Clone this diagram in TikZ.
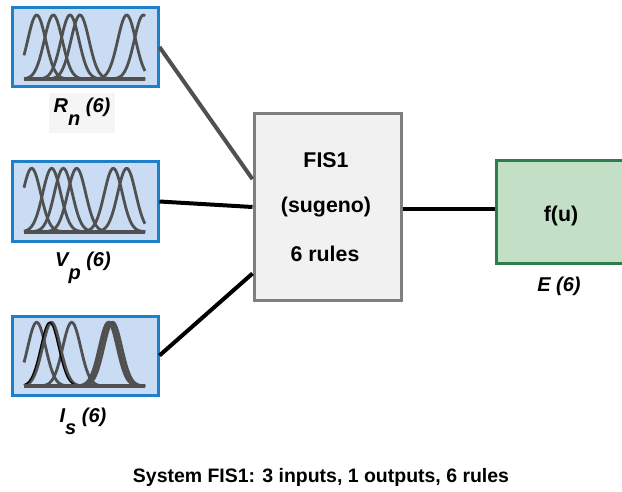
\documentclass[tikz,border=0pt]{standalone}
\usepackage{fontspec}
\setmainfont{Liberation Sans}
\definecolor{mfblue}{HTML}{C9DCF4}
\definecolor{mfedge}{HTML}{1F80CA}
\definecolor{fisgray}{HTML}{F1F1F1}
\definecolor{fisedge}{HTML}{7F7F7F}
\definecolor{outgreen}{HTML}{C3DFC6}
\definecolor{outedge}{HTML}{2E7D4F}
\definecolor{curvegray}{HTML}{505050}
\definecolor{labelbg}{HTML}{F5F5F5}

\tikzset{
  inputbox/.style={draw=mfedge, fill=mfblue, line width=2.25pt,
    minimum width=109.5pt, minimum height=59.25pt, inner sep=0pt},
  fisbox/.style={draw=fisedge, fill=fisgray, line width=2.25pt,
    minimum width=110.25pt, minimum height=139.5pt, inner sep=0pt},
  outbox/.style={draw=outedge, fill=outgreen, line width=2.25pt,
    minimum width=97.5pt, minimum height=76.5pt, inner sep=0pt},
  mfcurve/.style={draw=curvegray, line width=2.1pt},
  mfbase/.style={draw=curvegray, line width=2.7pt},
  wire/.style={line width=3pt, draw=black},
  boxtext/.style={font=\fontsize{16}{19}\selectfont\bfseries, anchor=base},
  varlabel/.style={font=\fontsize{15}{18}\selectfont\bfseries\itshape, anchor=base},
}
\newcommand{\lowsub}[1]{\raisebox{-0.62em}{#1}}

\begin{document}
\begin{tikzpicture}[x=0.75pt, y=-0.75pt]
  \useasboundingbox (0,0) rectangle (622,492);
  \clip (0,0) rectangle (622,492);
  \fill[white] (0,0) rectangle (622,492);

  % input variable blocks
  \node[inputbox] (in1) at (85,47) {};
  \node[inputbox] (in2) at (85,201.5) {};
  \node[inputbox] (in3) at (85,355.5) {};

  % membership functions of R_n
  \foreach \c in {36.7,53.3,70,80,126.7,143.3}
    \draw[mfcurve] plot[domain=24:145, samples=90, smooth]
      (\x, {79 - 64*exp(-((\x-\c)^2)/(2*9*9))});
  \draw[mfbase] (24,79) -- (145,79);

  % membership functions of V_p
  \foreach \c in {31.7,51.7,63.3,76.7,113.3,126.7}
    \draw[mfcurve] plot[domain=24:145, samples=90, smooth]
      (\x, {231.7 - 63.4*exp(-((\x-\c)^2)/(2*9*9))});
  \draw[mfbase] (24,231.7) -- (145,231.7);

  % membership functions of I_s (the selected one drawn thin and black)
  \foreach \c in {36.7,51.5,71.7,108.3,110,112.7}
    \draw[mfcurve] plot[domain=24:145, samples=90, smooth]
      (\x, {386 - 63.7*exp(-((\x-\c)^2)/(2*9*9))});
  \draw[black, line width=1pt] plot[domain=24:145, samples=90, smooth]
      (\x, {386 - 63.7*exp(-((\x-49.5)^2)/(2*9*9))});
  \draw[mfbase] (24,386) -- (145,386);

  % input labels
  \fill[labelbg] (49,93) rectangle (115,133);
  \node[varlabel] (lab1) at (82,113) {R\lowsub{n} (6)};
  \node[varlabel] (lab2) at (83,267) {V\lowsub{p} (6)};
  \node[varlabel] (lab3) at (83,422) {I\lowsub{s} (6)};

  % inference system and output
  \node[fisbox] (fis) at (327.5,207) {};
  \node[outbox] (out) at (561,212) {};

  \node[boxtext] (t1) at (326,168) {FIS1};
  \node[boxtext] (t2) at (326,213) {(sugeno)};
  \node[boxtext] (t3) at (325,261) {6 rules};
  \node[boxtext] (tf) at (561,221) {f(u)};
  \node[varlabel] (lab4) at (559,291) {E (6)};

  % connections
  \coordinate (fin1) at ([yshift=-50pt]fis.north west);
  \coordinate (fin3) at ([yshift=21pt]fis.south west);
  \draw[wire, draw=curvegray] (in1.east) -- (fin1);
  \draw[wire] (in2.east) -- (fis.west);
  \draw[wire] (in3.east) -- (fin3);
  \draw[wire] ([yshift=-1.5pt]fis.east) -- ([yshift=-1.5pt]fis.east -| out.west);

  % caption
  \node[font=\fontsize{14.6}{17}\selectfont\bfseries, anchor=base] (cap) at (321,482)
    {System FIS1: 3 inputs, 1 outputs, 6 rules};
\end{tikzpicture}
\end{document}
